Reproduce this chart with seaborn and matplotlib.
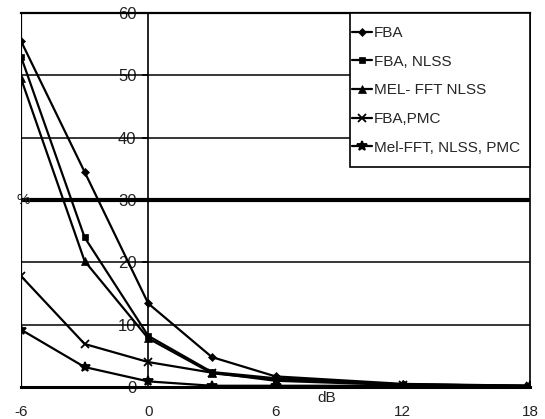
import matplotlib
matplotlib.use("Agg")
import matplotlib.pyplot as plt
from matplotlib.patches import Rectangle
import seaborn as sns
import pandas as pd

# SNR levels (dB) and error rates (%) per front-end configuration
snr_db = [-6, -3, 0, 3, 6, 12, 18]
fba = [55.5, 34.5, 13.4, 4.8, 1.7, 0.5, 0.2]
fba_nlss = [53.0, 24.0, 8.2, 2.4, 1.4, 0.4, 0.2]
mel_fft_nlss = [49.5, 20.2, 7.8, 2.2, 1.2, 0.4, 0.2]
fba_pmc = [17.8, 6.9, 4.0, 2.3, 1.0, 0.3, 0.1]
mel_fft_nlss_pmc = [9.2, 3.2, 0.9, 0.2, 0.2, 0.2, 0.1]

series_names = ["FBA", "FBA, NLSS", "MEL- FFT NLSS", "FBA,PMC", "Mel-FFT, NLSS, PMC"]
series_values = [fba, fba_nlss, mel_fft_nlss, fba_pmc, mel_fft_nlss_pmc]
marker_styles = ["D", "s", "^", "x", "*"]
marker_sizes = [4, 5, 6, 6, 7]

y_ticks = [0, 10, 20, 30, 40, 50, 60]
x_ticks = [-6, 0, 6, 12, 18]

rows = []
for name, vals in zip(series_names, series_values):
    for x, y in zip(snr_db, vals):
        rows.append({"dB": x, "%": y, "series": name})
df = pd.DataFrame(rows)

sns.set_style("white")
plt.rcParams["font.family"] = ["Liberation Sans", "DejaVu Sans"]
plt.rcParams["axes.unicode_minus"] = False

W, H = 545, 419
fig = plt.figure(figsize=(W / 100, H / 100), dpi=100)
ax = fig.add_axes([21 / W, 1 - 387 / H, 509 / W, 374 / H])

# horizontal gridlines
for yv in y_ticks[1:]:
    ax.axhline(yv, color="black", lw=3.0 if yv == 30 else 1.1, zorder=1)
ax.axvline(-6, color="black", lw=1.6, zorder=1)

for name, mk, ms in zip(series_names, marker_styles, marker_sizes):
    sub = df[df["series"] == name]
    sns.lineplot(data=sub, x="dB", y="%", ax=ax, color="black", lw=1.6,
                 marker=mk, markersize=ms, markeredgecolor="black",
                 markeredgewidth=1.3 if mk in ("x", "*") else 0.5,
                 label=name, zorder=3)

ax.set_xlim(-6, 18)
ax.set_ylim(0, 60)
ax.set_xticks(x_ticks)
ax.set_yticks(y_ticks)
ax.set_xlabel("")
ax.set_ylabel("")

# value axis crosses at 0 dB
ax.spines["left"].set_position(("data", 0))
for s in ["left", "bottom", "top", "right"]:
    ax.spines[s].set_visible(True)
    ax.spines[s].set_color("black")
ax.spines["left"].set_linewidth(1.2)
ax.spines["bottom"].set_linewidth(2.2)
ax.spines["top"].set_linewidth(1.6)
ax.spines["right"].set_linewidth(1.2)

ax.tick_params(axis="y", direction="out", length=4.5, width=1.2, color="black",
               labelsize=12, pad=4, left=True)
ax.tick_params(axis="x", direction="out", length=0, labelsize=11, pad=13, bottom=True)
for lbl in ax.get_yticklabels() + ax.get_xticklabels():
    lbl.set_color("#222222")

ax.text(8.4, -0.6, "dB", ha="center", va="top", fontsize=11, color="#222222")
ax.text(-5.9, 30, "%", ha="center", va="center", fontsize=11, color="#222222")

# legend box drawn in pixel coordinates, entries placed inside it
box = Rectangle((350 / W, 1 - 167 / H), 180 / W, 154 / H,
                transform=fig.transFigure, facecolor="white",
                edgecolor="black", lw=1.2, zorder=4, clip_on=False)
ax.add_artist(box)
leg = ax.legend(loc="upper left", bbox_to_anchor=(352 / W, 1 - 26 / H),
                bbox_transform=fig.transFigure, borderaxespad=0, borderpad=0,
                frameon=False, fontsize=11, labelspacing=0.96,
                handlelength=1.3, handletextpad=0.12)
leg.set_zorder(6)

fig.savefig("out.png", dpi=100, facecolor="white")
